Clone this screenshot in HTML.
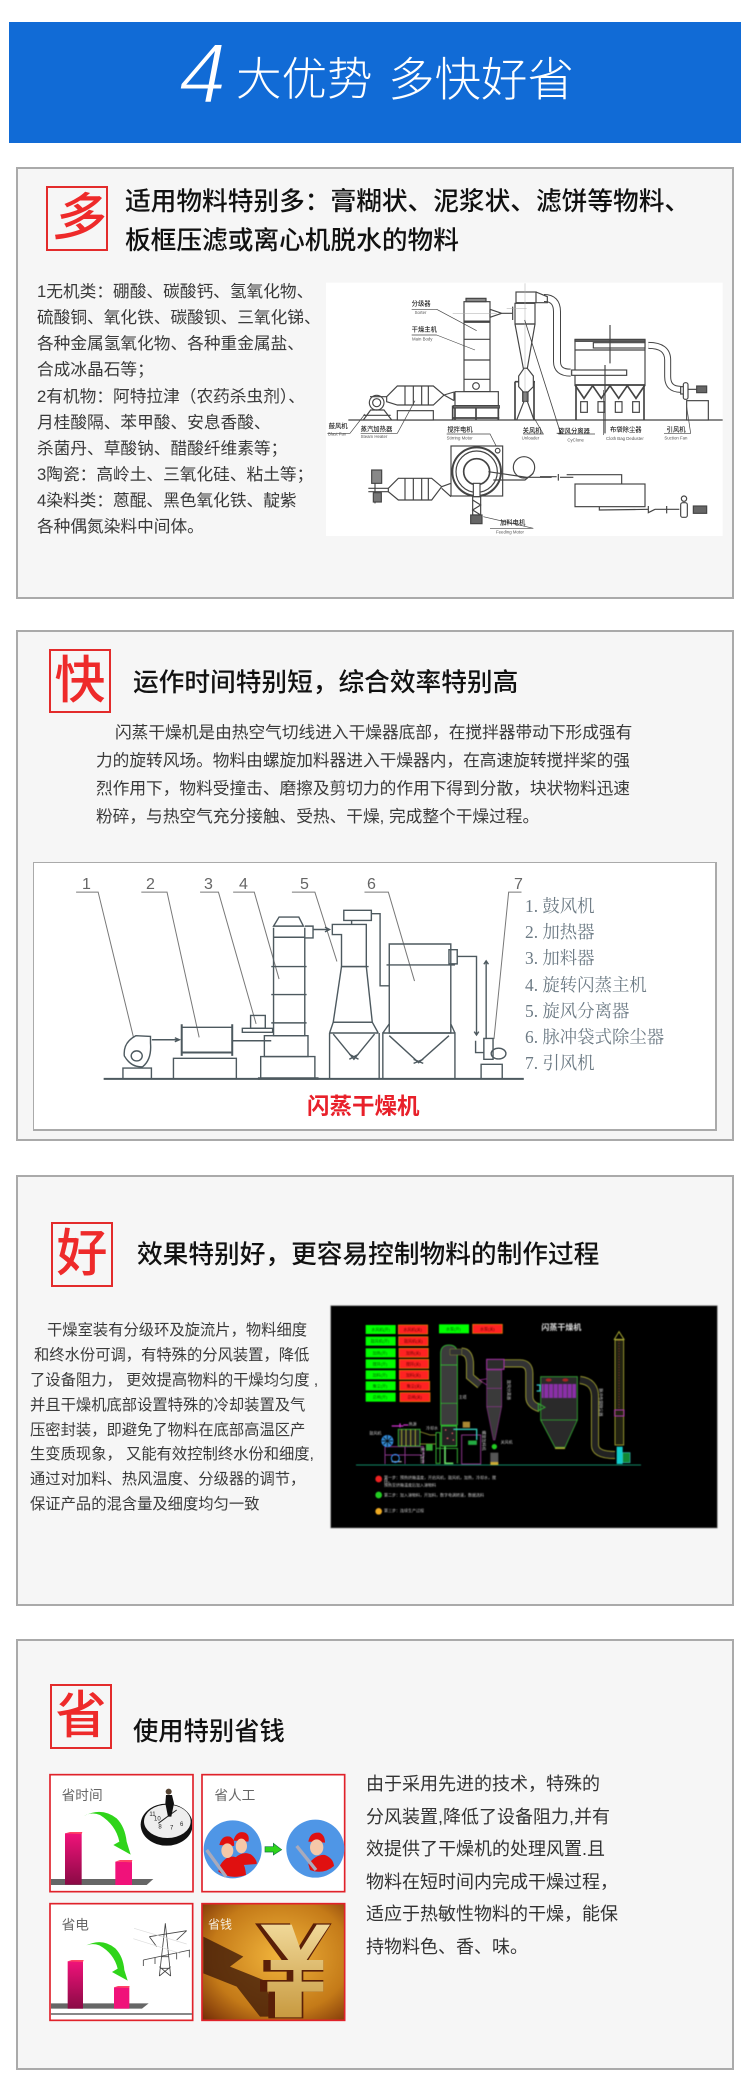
<!DOCTYPE html>
<html lang="zh"><head><meta charset="utf-8"><title>4大优势 多快好省</title>
<style>
html,body{margin:0;padding:0;background:#fff}
#p{position:relative;width:750px;height:2085px;overflow:hidden;background:#fff;font-family:"Liberation Sans","Noto Sans CJK SC",sans-serif;color:#333}
.b{position:absolute;box-sizing:border-box}
.card{background:#f6f6f6;border:2px solid #aaa}
.sq{border:2px solid #e32b2b;color:#ee2a2a;font-weight:500;text-align:center;font-size:51px;line-height:60px}
.t{position:absolute;white-space:nowrap}
.h{font-size:25.7px;line-height:30px;color:#111;font-weight:500}
.c1{font-size:16.7px;line-height:20px;left:37px;color:#3a3a3a}
.c2{font-size:16.7px;line-height:20px;left:96px;color:#3a3a3a}
.c3{font-size:15.3px;line-height:20px;left:30px;color:#3a3a3a}
.c4{font-size:18px;line-height:22px;left:366px;color:#333}
.l{font-family:"Liberation Serif","Noto Serif CJK SC",serif;font-size:17.4px;line-height:22px;left:525px;color:#6d7b85}
.n{position:absolute;top:876px;font-size:16px;line-height:18px;color:#666}
svg{position:absolute;display:block}
svg text{font-family:"Liberation Sans","Noto Sans CJK SC",sans-serif}
.ns *{vector-effect:non-scaling-stroke}
</style></head><body><div id="p">

<div class="b" style="left:9px;top:22px;width:732px;height:121px;background:#116bd6"></div>
<svg style="left:0;top:0" width="750" height="150"><text x="179" y="103" font-size="85" font-style="italic" fill="#fff" stroke="#116bd6" stroke-width="2">4</text></svg>
<div class="t" style="left:236px;top:50px;font-size:45.5px;line-height:60px;color:#fff;font-weight:300">大优势</div>
<div class="t" style="left:388px;top:50px;font-size:46.5px;line-height:60px;color:#fff;font-weight:300">多快好省</div>

<!-- card 1 -->
<div class="b card" style="left:16px;top:167px;width:718px;height:432px"></div>
<div class="b sq" style="left:46px;top:186px;width:62px;height:65px;font-style:italic">多</div>
<div class="t h" style="left:125px;top:187px">适用物料特别多：膏糊状、泥浆状、滤饼等物料、</div>
<div class="t h" style="left:125px;top:226px">板框压滤或离心机脱水的物料</div>
<div class="t c1" style="top:282px">1无机类：硼酸、碳酸钙、氢氧化物、</div>
<div class="t c1" style="top:308px">硫酸铜、氧化铁、碳酸钡、三氧化锑、</div>
<div class="t c1" style="top:334px">各种金属氢氧化物、各种重金属盐、</div>
<div class="t c1" style="top:360px">合成冰晶石等；</div>
<div class="t c1" style="top:387px">2有机物：阿特拉津（农药杀虫剂）、</div>
<div class="t c1" style="top:413px">月桂酸隔、苯甲酸、安息香酸、</div>
<div class="t c1" style="top:439px">杀菌丹、草酸钠、醋酸纤维素等；</div>
<div class="t c1" style="top:465px">3陶瓷：高岭土、三氧化硅、粘土等；</div>
<div class="t c1" style="top:491px">4染料类：蒽醌、黑色氧化铁、靛紫</div>
<div class="t c1" style="top:517px">各种偶氮染料中间体。</div>

<svg style="left:320px;top:270px;filter:blur(.35px)" width="420" height="280" viewBox="0 0 1260 840">
<rect x="18" y="38" width="1190" height="760" fill="#fff"/>
<g fill="none" stroke="#444" stroke-width="3.5">
<path d="M85 450H1208" stroke-width="4"/>
<path d="M672 84Q711 84 711 125V275Q711 308 752 308" stroke="#444" stroke-width="24"/>
<path d="M672 84Q711 84 711 125V275Q711 308 752 308" stroke="#fff" stroke-width="18"/>
<path d="M985 226Q1043 226 1043 270V320Q1043 358 1082 358" stroke="#444" stroke-width="21"/>
<path d="M985 226Q1043 226 1043 270V320Q1043 358 1082 358" stroke="#fff" stroke-width="15"/>
<rect x="432" y="95" width="78" height="270" fill="#fff"/>
<rect x="438" y="85" width="60" height="10" fill="#888"/>
<path d="M432 155H510" stroke-width="7"/><path d="M432 208H510M432 270H510M432 328H510M432 365H510"/>
<circle cx="468" cy="348" r="10" fill="#fff"/>
<rect x="405" y="365" width="130" height="42" fill="#fff"/>
<rect x="400" y="407" width="138" height="7" fill="#777"/>
<path d="M405 414V450M468 414V450M535 414V450M400 444H538M398 407V450" stroke-width="5"/>
<path d="M510 118L545 130H578M510 142L545 130M578 110V150M510 118V142"/>
<rect x="588" y="66" width="60" height="32" fill="#fff"/><path d="M648 66L682 80V98L648 98"/>
<rect x="585" y="100" width="60" height="62" fill="#fff"/>
<path d="M585 162L610 295H622L645 162M585 162H645"/>
<path d="M612 295L596 318V350L610 366H624L640 350V318L622 295Z" fill="#fff"/>
<rect x="608" y="366" width="16" height="28" fill="#777"/>
<path d="M585 335V450M642 335V450M585 335H596M640 335H645" stroke-width="5"/>
<path d="M612 394L590 450M622 394L642 450"/>
<path d="M615 40V400M398 130H530M560 115H620" stroke="#aaa" stroke-width="1.5"/>
<path d="M614 150L722 490H710" stroke-width="2.5"/>
<rect x="765" y="210" width="210" height="135" fill="#fff"/>
<rect x="765" y="208" width="210" height="6" fill="#666"/>
<rect x="820" y="218" width="155" height="16" fill="#fff"/>
<path d="M765 240H975"/>
<rect x="755" y="300" width="165" height="16" fill="#fff"/>
<path d="M765 345L792 385L818 347L844 385L870 347L896 385L922 347L948 385L975 345M765 345H975" stroke-width="5"/>
<path d="M768 345V450M972 345V450" stroke-width="5"/><path d="M855 285V490M870 165V280"/>
<g fill="#fff"><rect x="782" y="395" width="20" height="32"/><rect x="834" y="395" width="20" height="32"/><rect x="886" y="395" width="20" height="32"/><rect x="938" y="395" width="20" height="32"/></g>
<rect x="1082" y="350" width="18" height="22" fill="#fff"/><rect x="1090" y="338" width="14" height="50" rx="6" fill="#fff"/>
<path d="M1104 358H1130"/><rect x="1130" y="348" width="30" height="20" fill="#666"/>
<rect x="1100" y="392" width="65" height="58" fill="#fff"/>
<circle cx="170" cy="398" r="22" fill="#fff"/><circle cx="170" cy="398" r="12"/>
<path d="M150 380H200M130 450L152 420H192L215 450M130 436H212"/>
<path d="M200 380L232 348H340L372 375L340 405 L232 405 L200 395Z" fill="#fff"/>
<path d="M255 348V405M280 348V405M305 348V405M325 348V405"/>
<rect x="232" y="422" width="108" height="28" fill="#fff"/>
<path d="M372 375L402 366M372 375L402 392M402 366V392"/>
<path d="M285 392L232 490H122M135 432L90 490H22M380 492H510L532 535M1100 410L1112 490H1032M850 360V495M610 492H670L640 440" stroke-width="2"/>
<path d="M350 118L470 182M350 118H275M350 195L465 240M350 195H275M510 775H640L490 740M715 492H825" stroke-width="2"/>
<!-- plan view -->
<rect x="393" y="528" width="155" height="150" fill="#fff"/>
<circle cx="470" cy="605" r="73" stroke-width="6"/><circle cx="470" cy="605" r="62" fill="#fff"/><circle cx="470" cy="605" r="39" fill="#fff" stroke-width="5"/>
<circle cx="533" cy="542" r="7"/><circle cx="612" cy="592" r="32" fill="#fff"/>
<path d="M505 605L620 622H695M520 630H615L640 610"/>
<path d="M205 655L235 625H335L365 650L335 690H235L205 665Z" fill="#fff"/>
<path d="M255 625V690M280 625V690M305 625V690M325 625V690M365 650L393 640M365 655L393 680"/>
<path d="M145 655H205M145 665H205M165 600V700"/><rect x="155" y="600" width="30" height="40" fill="#888"/><rect x="160" y="668" width="24" height="28" fill="#777"/>
<rect x="460" y="640" width="20" height="40" fill="#fff"/>
<path d="M458 680H482V735H458ZM458 690L482 705L458 720L482 735"/><rect x="452" y="735" width="34" height="26" fill="#666"/>
<path d="M660 620H710M715 612V632M720 622H760M740 614H905V642M838 710V720L985 718"/>
<rect x="765" y="642" width="210" height="68" fill="#fff"/>
<path d="M985 708V728L1005 718M1005 718H1078M1040 708V730"/>
<circle cx="1092" cy="686" r="8"/><rect x="1082" y="698" width="20" height="44" rx="6" fill="#fff"/>
<rect x="1120" y="708" width="40" height="22" fill="#666"/>
</g>
<g fill="#222" font-size="19" font-weight="500">
<text x="26" y="474">鼓风机</text><text x="122" y="483">蒸汽加热器</text><text x="275" y="107">分级器</text><text x="275" y="184">干燥主机</text>
<text x="382" y="485">搅拌电机</text><text x="608" y="487">关风机</text><text x="715" y="489">旋风分离器</text><text x="870" y="484">布袋除尘器</text><text x="1040" y="484">引风机</text><text x="540" y="763">加料电机</text>
</g>
<g fill="#555" font-size="13">
<text x="24" y="497">Blast Fan</text><text x="122" y="504">Steam Heater</text><text x="284" y="132">Sorter</text><text x="276" y="212">Main Body</text><text x="380" y="508">Stirring Motor</text><text x="605" y="508">Unloader</text><text x="742" y="514">CyClone</text><text x="858" y="510">Cloth Bag Deduster</text><text x="1033" y="508">Suction Fan</text><text x="528" y="790">Feeding Motor</text>
</g>
</svg>

<!-- card 2 -->
<div class="b card" style="left:16px;top:630px;width:718px;height:511px"></div>
<div class="b sq" style="left:49px;top:649px;width:62px;height:64px">快</div>
<div class="t h" style="left:133px;top:668px">运作时间特别短，综合效率特别高</div>
<div class="t c2" style="top:723px;left:115px">闪蒸干燥机是由热空气切线进入干燥器底部，在搅拌器带动下形成强有</div>
<div class="t c2" style="top:751px">力的旋转风场。物料由螺旋加料器进入干燥器内，在高速旋转搅拌桨的强</div>
<div class="t c2" style="top:779px">烈作用下，物料受撞击、磨擦及剪切力的作用下得到分散，块状物料迅速</div>
<div class="t c2" style="top:807px">粉碎，与热空气充分接触、受热、干燥, 完成整个干燥过程。</div>
<div class="b" style="left:33px;top:862px;width:684px;height:269px;background:#fff;border:1px solid #aaa;border-bottom-width:2px;border-right-width:2px"></div>
<svg class="ns" style="left:20.6px;top:621px;filter:blur(.25px)" width="720" height="530" viewBox="0 0 1568 1572" preserveAspectRatio="none">
<g fill="none" stroke="#4d595f" stroke-width="1.4">
<path d="M120 804H168L245 1235M262 804H318L388 1235M390 804H430L512 1195M462 804H508L562 1062M590 804H640L688 1010M748 804H800L857 1068M1090 804H1062L1030 1240" stroke="#777" stroke-width="1"/>
<path d="M180 1358H1095" stroke-width="2"/>
<rect x="222" y="1326" width="62" height="32"/>
<path d="M250 1230Q222 1250 225 1290Q240 1325 265 1322Q285 1300 282 1252V1232Z"/><ellipse cx="252" cy="1290" rx="12" ry="15"/>
<path d="M285 1242H345M335 1236L345 1242L335 1248"/>
<rect x="350" y="1205" width="110" height="75"/>
<path d="M350 1196V1290M460 1196V1290M350 1280H460" stroke-width="2"/>
<rect x="332" y="1297" width="137" height="61"/>
<path d="M460 1245H545"/>
<rect x="500" y="1170" width="32" height="38"/><rect x="482" y="1208" width="66" height="12"/>
<path d="M550 910V1230H618V910M550 938H618M545 1025H622M545 1108H622M545 1192H622"/>
<path d="M550 905L562 878H605L615 905Z"/>
<path d="M618 905H636V940H618M636 915H672M662 908L672 915L662 922"/>
<rect x="530" y="1230" width="95" height="62"/>
<rect x="522" y="1292" width="118" height="66"/>
<path d="M516 1357H648" stroke-width="2.5"/>
<path d="M678 900H752V1025H698V930H678Z"/>
<rect x="703" y="858" width="60" height="30"/><path d="M720 888V900M763 868H782V1082H802"/>
<path d="M698 1025H757M698 1025L680 1190H765L752 1025"/>
<path d="M680 1190H765M672 1222H778M680 1190L672 1222M765 1190L778 1222"/>
<path d="M672 1222V1358M780 1222V1358M680 1225L725 1300L770 1225M715 1285L735 1300M735 1285L715 1300"/>
<path d="M802 958H936V1222H802ZM796 1020H945"/>
<rect x="932" y="975" width="18" height="42"/>
<path d="M950 995H992V1225M987 1218L992 1228L997 1218"/>
<path d="M788 1222H945V1358H788ZM802 1230L866 1310L932 1230M855 1300L876 1312M876 1300L855 1312M802 1195L788 1222M936 1195L945 1222"/>
<path d="M1013 1008V1240M1008 1018L1013 1008L1018 1018"/>
<path d="M990 1245V1280H1008V1300H1028V1238H1008V1280"/><ellipse cx="1040" cy="1283" rx="16" ry="16"/>
<rect x="1002" y="1315" width="46" height="43"/>
</g>
</svg>
<div class="n" style="left:82px">1</div>
<div class="n" style="left:146px">2</div>
<div class="n" style="left:204px">3</div>
<div class="n" style="left:239px">4</div>
<div class="n" style="left:300px">5</div>
<div class="n" style="left:367px">6</div>
<div class="n" style="left:514px">7</div>
<div class="t l" style="top:895px">1. 鼓风机</div>
<div class="t l" style="top:921px">2. 加热器</div>
<div class="t l" style="top:947px">3. 加料器</div>
<div class="t l" style="top:974px">4. 旋转闪蒸主机</div>
<div class="t l" style="top:1000px">5. 旋风分离器</div>
<div class="t l" style="top:1026px">6. 脉冲袋式除尘器</div>
<div class="t l" style="top:1052px">7. 引风机</div>
<div class="t" style="left:307px;top:1094px;font-size:22.5px;line-height:26px;color:#e8202a;font-weight:700">闪蒸干燥机</div>

<!-- card 3 -->
<div class="b card" style="left:16px;top:1175px;width:718px;height:431px"></div>
<div class="b sq" style="left:51px;top:1222px;width:62px;height:65px">好</div>
<div class="t h" style="left:137px;top:1240px">效果特别好，更容易控制物料的制作过程</div>
<div class="t c3" style="top:1321px;left:47px">干燥室装有分级环及旋流片，物料细度</div>
<div class="t c3" style="top:1346px;left:34px">和终水份可调，有特殊的分风装置，降低</div>
<div class="t c3" style="top:1371px">了设备阻力， 更效提高物料的干燥均匀度 ,</div>
<div class="t c3" style="top:1396px">并且干燥机底部设置特殊的冷却装置及气</div>
<div class="t c3" style="top:1421px">压密封装，即避免了物料在底部高温区产</div>
<div class="t c3" style="top:1445px">生变质现象， 又能有效控制终水份和细度,</div>
<div class="t c3" style="top:1470px">通过对加料、热风温度、分级器的调节，</div>
<div class="t c3" style="top:1495px">保证产品的混含量及细度均匀一致</div>

<svg style="left:320px;top:1290px;filter:blur(.4px)" width="410" height="270" viewBox="0 0 1230 810">
<rect x="32" y="47" width="1160" height="667" fill="#000" stroke="#888" stroke-width="2"/>
<g font-size="12" text-anchor="middle">
<g fill="#0f0"><rect x="137" y="105" width="90" height="27"/><rect x="137" y="140" width="90" height="27"/><rect x="137" y="175" width="90" height="27"/><rect x="137" y="208" width="90" height="27"/><rect x="137" y="241" width="90" height="27"/><rect x="137" y="274" width="90" height="27"/><rect x="137" y="308" width="90" height="27"/><rect x="357" y="103" width="90" height="27"/></g>
<g fill="#f22" stroke="#e80" stroke-width="2"><rect x="235" y="105" width="88" height="27"/><rect x="236" y="140" width="88" height="27"/><rect x="237" y="175" width="88" height="27"/><rect x="238" y="208" width="88" height="27"/><rect x="238" y="241" width="88" height="27"/><rect x="239" y="274" width="90" height="27"/><rect x="240" y="308" width="90" height="27"/><rect x="458" y="103" width="89" height="27"/></g>
<g fill="#060"><text x="182" y="123">水风机(开)</text><text x="180" y="158">鼓风机(开)</text><text x="180" y="193">加热(开)</text><text x="180" y="226">搅拌(开)</text><text x="180" y="259">加料(开)</text><text x="180" y="292">集尘(开)</text><text x="180" y="326">总闸(开)</text><text x="400" y="122">水泵(开)</text></g>
<g fill="#600"><text x="278" y="123">水风机(关)</text><text x="280" y="158">鼓风机(关)</text><text x="280" y="193">加热(关)</text><text x="280" y="226">搅拌(关)</text><text x="280" y="259">加料(关)</text><text x="282" y="292">集尘(关)</text><text x="284" y="326">总闸(关)</text><text x="502" y="122">水泵(关)</text></g>
</g>
<text x="664" y="120" font-size="24" font-weight="700" fill="#ddd">闪蒸干燥机</text>
<g fill="none">
<path d="M425 185Q450 185 450 225V260L480 285" stroke="#aa3" stroke-width="24"/><path d="M425 185Q450 185 450 225V260L480 285" stroke="#333" stroke-width="19"/>
<path d="M550 220H600Q628 220 628 250V320Q628 345 660 355" stroke="#aa3" stroke-width="24"/><path d="M550 220H600Q628 220 628 250V320Q628 345 660 355" stroke="#333" stroke-width="19"/>
<path d="M780 270Q825 275 825 320V465Q825 495 885 495" stroke="#aa3" stroke-width="24"/><path d="M780 270Q825 275 825 320V465Q825 495 885 495" stroke="#222" stroke-width="19"/>
<path d="M362 190Q362 165 387 165Q412 165 412 190V405H362Z" fill="#3c3c3c" stroke="#3c3" stroke-width="2.5"/>
<path d="M362 225H412M362 340H412" stroke="#3c3" stroke-width="2"/>
<rect x="390" y="177" width="35" height="18" fill="#333" stroke="#aa3"/>
<rect x="364" y="408" width="46" height="60" fill="#222" stroke="#3c3" stroke-width="3"/>
<path d="M375 420h4M395 430h4M380 445h5M398 450h4" stroke="#f66" stroke-width="4"/>
<rect x="500" y="208" width="52" height="30" fill="#2c2c2c" stroke="#a3a" stroke-width="3"/>
<path d="M478 270L515 295H545V275L510 265Z" stroke="#a3a" stroke-width="2"/>
<path d="M500 240H545V350L525 450H520L500 350Z" fill="#3a3a3a" stroke="#a3a" stroke-width="1.5"/>
<path d="M500 295H545M500 350H545" stroke="#a3a" stroke-width="1.5"/>
<path d="M662 260H772V390H662ZM662 390L705 472H735L772 390" fill="#2a2a2a" stroke="#3a3" stroke-width="2.5"/>
<rect x="705" y="472" width="30" height="5" fill="#aa3"/>
<rect x="665" y="282" width="103" height="42" fill="#8a2fa8"/>
<path d="M672 282V325M686 282V325M700 282V325M714 282V325M728 282V325M742 282V325M756 282V325" stroke="#333" stroke-width="2"/>
<ellipse cx="686" cy="270" rx="9" ry="5" fill="#a22"/><ellipse cx="736" cy="270" rx="9" ry="5" fill="#a22"/>
<path d="M655 340L675 352L655 362Z" stroke="#3a3" stroke-width="3"/>
<path d="M650 285H660V303H650" stroke="#3cc" stroke-width="4"/>
<rect x="885" y="150" width="26" height="315" fill="#221" stroke="#aa3" stroke-width="2.5"/>
<path d="M883 148L897 125L912 148Z" stroke="#aa3" stroke-width="3"/><path d="M897 150V360" stroke="#933" stroke-width="2" stroke-dasharray="4 4"/>
<rect x="884" y="360" width="28" height="18" stroke="#a3a" stroke-width="3"/>
<rect x="890" y="470" width="18" height="52" fill="#1cc"/><rect x="908" y="488" width="22" height="30" fill="#183" stroke="#3bb" stroke-width="2"/>
<path d="M108 525H963" stroke="#186" stroke-width="3"/>
<path d="M195 470H310V522M195 470V522M255 470V522M195 495H305" stroke="#838" stroke-width="3"/>
<circle cx="202" cy="453" r="17" fill="#38c" stroke="#39f" stroke-width="2"/><path d="M190 442L214 464M214 442L190 464M202 435V470M185 453H219" stroke="#000" stroke-width="2"/>
<rect x="235" y="418" width="65" height="50" fill="#222" stroke="#3a3" stroke-width="3"/>
<path d="M245 418V468M258 418V468M272 418V468M286 418V468" stroke="#aa3" stroke-width="3"/>
<path d="M215 408H250M240 400V412M250 405H265" stroke="#c3c" stroke-width="4"/>
<path d="M300 425L330 435H348M300 462L330 462H348" stroke="#aa3" stroke-width="2"/>
<path d="M348 428H360V520H348ZM348 475H412V520" stroke="#3a3" stroke-width="3"/><rect x="318" y="462" width="20" height="20" fill="#3a3"/>
<path d="M425 435H482V522H425Z" stroke="#838" stroke-width="3"/>
<rect x="428" y="395" width="22" height="18" fill="#a83"/>
<path d="M400 418H470V450" stroke="#3cb" stroke-width="4"/><rect x="445" y="452" width="25" height="12" fill="#2a4" stroke="#3a3"/>
<path d="M375 470V520H400" stroke="#6d6" stroke-width="5"/>
<path d="M215 515H245" stroke="#ccc" stroke-width="3"/><circle cx="226" cy="505" r="12" stroke="#39f" stroke-width="3"/>
<circle cx="523" cy="470" r="8" fill="#2c2"/><rect x="511" y="488" width="24" height="28" fill="#555"/><rect x="511" y="516" width="24" height="9" fill="#ca3"/>
</g>
<g fill="#ccc" font-size="12">
<text x="148" y="433">鼓风机</text><text x="266" y="406">热源</text><text x="318" y="418">冷却水</text><text x="416" y="326">主塔</text><text x="542" y="460">关风机</text>
<text x="192" y="567">第一步：预热烘箱温度，开启风机，鼓风机，加热，冷却水，搅</text><text x="192" y="578">拌。</text><text x="192" y="590">预热至烘箱温度后加入溶物料</text>
<text x="192" y="619">第二步：加入溶物料，开加料，数字电调转速，数据选料</text><text x="192" y="666">第三步：连续生产过程</text>
</g>
<circle cx="176" cy="567" r="10" fill="#e22"/><circle cx="176" cy="615" r="10" fill="#2c2"/><circle cx="176" cy="664" r="10" fill="#ea2"/>
<text x="0" y="0" font-size="12" fill="#ccc" transform="translate(562,270) rotate(90)">旋风分离器</text>
<text x="0" y="0" font-size="12" fill="#ccc" transform="translate(838,295) rotate(90)">脉冲布袋除尘器</text>
<text x="0" y="0" font-size="12" fill="#ccc" transform="translate(487,422) rotate(90)">螺旋加料机</text>
<text x="0" y="0" font-size="12" fill="#ccc" transform="translate(303,472) rotate(90)">蒸汽加热</text>
</svg>

<!-- card 4 -->
<div class="b card" style="left:16px;top:1639px;width:718px;height:431px"></div>
<div class="b sq" style="left:50px;top:1684px;width:62px;height:65px">省</div>
<div class="t h" style="left:133px;top:1717px;font-size:25.3px">使用特别省钱</div>
<div class="t c4" style="top:1773px">由于采用先进的技术，特殊的</div>
<div class="t c4" style="top:1806px">分风装置,降低了设备阻力,并有</div>
<div class="t c4" style="top:1838px">效提供了干燥机的处理风置.且</div>
<div class="t c4" style="top:1871px">物料在短时间内完成干燥过程，</div>
<div class="t c4" style="top:1903px">适应于热敏性物料的干燥，能保</div>
<div class="t c4" style="top:1936px">持物料色、香、味。</div>

<svg style="left:30px;top:1760px" width="340" height="270" viewBox="0 0 1020 810">
<defs>
<linearGradient id="g1" x1="0" y1="0" x2="0" y2="1"><stop offset="0" stop-color="#f0127a"/><stop offset="1" stop-color="#8a0a45"/></linearGradient>
<radialGradient id="g2" cx=".55" cy=".45" r=".75"><stop offset="0" stop-color="#f2b53c"/><stop offset=".65" stop-color="#c47a18"/><stop offset="1" stop-color="#7a3208"/></radialGradient>
<linearGradient id="g3" x1="0" y1="0" x2="0" y2="1"><stop offset="0" stop-color="#f0d898"/><stop offset="1" stop-color="#c89a40"/></linearGradient>
<clipPath id="c1"><rect x="60" y="44" width="426" height="351"/></clipPath>
</defs>
<g fill="#fff" stroke="#e0222a" stroke-width="5"><rect x="60" y="44" width="429" height="351"/><rect x="516" y="44" width="428" height="351"/><rect x="60" y="431" width="428" height="350"/></g>
<g fill="#666" font-size="41">
<text x="95" y="120">省时间</text><text x="553" y="120">省人工</text><text x="95" y="508">省电</text></g>
<!-- panel 1 -->
<path d="M63 357H370L350 375H63Z" fill="#666"/>
<rect x="105" y="220" width="50" height="154" fill="url(#g1)"/><path d="M105 220L120 216H157L155 222Z" fill="#f46"/>
<rect x="256" y="305" width="50" height="70" fill="#f0127a"/><path d="M256 305L270 300H307L305 307Z" fill="#f46"/>
<path d="M162 168Q215 140 260 175Q285 200 290 245L302 284L250 255L268 245Q258 195 210 165Q185 155 162 168Z" fill="#2fd41a"/>
<g clip-path="url(#c1)">
<ellipse cx="410" cy="194" rx="78" ry="63" fill="#111"/><ellipse cx="412" cy="184" rx="70" ry="50" fill="#eee"/>
<g font-size="18" fill="#222"><text x="372" y="182">10</text><text x="358" y="168">11</text><text x="385" y="205">8</text><text x="420" y="208">7</text><text x="450" y="198">6</text></g>
<path d="M412 170L385 190M412 170L440 150" stroke="#222" stroke-width="3"/>
<path d="M408 105L426 105L432 130L424 170H414L406 130Z" fill="#111"/><circle cx="416" cy="95" r="9" fill="#543"/>
</g>
<!-- panel 2 -->
<circle cx="608" cy="268" r="87" fill="#4f96e6"/><circle cx="856" cy="266" r="87" fill="#4f96e6"/>
<g fill="#e01010"><path d="M568 320Q585 288 610 290Q645 295 648 345Q600 360 565 335Z"/><path d="M612 296Q640 270 665 285Q682 300 680 312L640 315Z"/><path d="M835 312Q860 282 885 285Q910 295 912 318Q880 345 840 330Z"/>
<path d="M568 255Q575 225 600 230Q615 238 612 258Z"/><path d="M610 242Q620 210 645 218Q660 225 655 245Z"/><path d="M835 245Q840 215 868 218Q885 225 885 248Z"/></g>
<g fill="#f5c8a8"><ellipse cx="592" cy="272" rx="18" ry="22"/><ellipse cx="634" cy="258" rx="17" ry="22"/><ellipse cx="860" cy="262" rx="20" ry="24"/></g>
<path d="M530 270L588 350M800 258L858 330" stroke="#aab" stroke-width="10"/>
<path d="M705 260H730V250L755 269L730 285V276H705Z" fill="#2fd41a" stroke="#174" stroke-width="2"/>
<!-- panel 3 -->
<path d="M63 730H356L336 746H63Z" fill="#666"/><rect x="63" y="759" width="423" height="6" fill="#888"/>
<rect x="113" y="604" width="46" height="142" fill="url(#g1)"/><path d="M113 604L125 600H161L159 606Z" fill="#f46"/>
<rect x="252" y="682" width="46" height="64" fill="#f0127a"/><path d="M252 682L264 678H299L297 684Z" fill="#f46"/>
<path d="M166 558Q215 532 256 565Q280 590 283 630L293 662L246 636L263 626Q252 580 208 556Q185 548 166 558Z" fill="#2fd41a"/>
<g fill="none" stroke="#444" stroke-width="2.5"><path d="M406 490L388 648M406 490L422 648M395 590H415M390 625H420M388 648L422 620M422 648L388 620M358 530L470 512M340 600L480 570M358 530L380 560M470 512L440 540M340 600V618M375 592V612M440 578V598M478 570V592"/></g>
<path d="M312 505L470 552M310 536L450 580" stroke="#ddd" stroke-width="2" fill="none"/>
<!-- panel 4 -->
<rect x="516" y="431" width="428" height="350" fill="url(#g2)" stroke="#e0222a" stroke-width="5"/>
<path d="M520 530L640 590L600 620L700 660L740 770L690 770L620 680L520 640Z" fill="#3a1608" opacity=".75"/>
<path d="M675 490H780L800 570L850 490H905L835 600H880V635H820V660H880V695H820V775H715V695H690V660H770V635H700V600H755Z" fill="#5a1f08"/>
<path d="M692 494H785L812 570L860 494H900L830 600H880V630H815V665H880V695H815V772H735V695H712V665H790V630H722V600H775Z" fill="url(#g3)"/>
<text x="534" y="506" font-size="36" fill="#f6eee0">省钱</text>
</svg>
</div></body></html>
